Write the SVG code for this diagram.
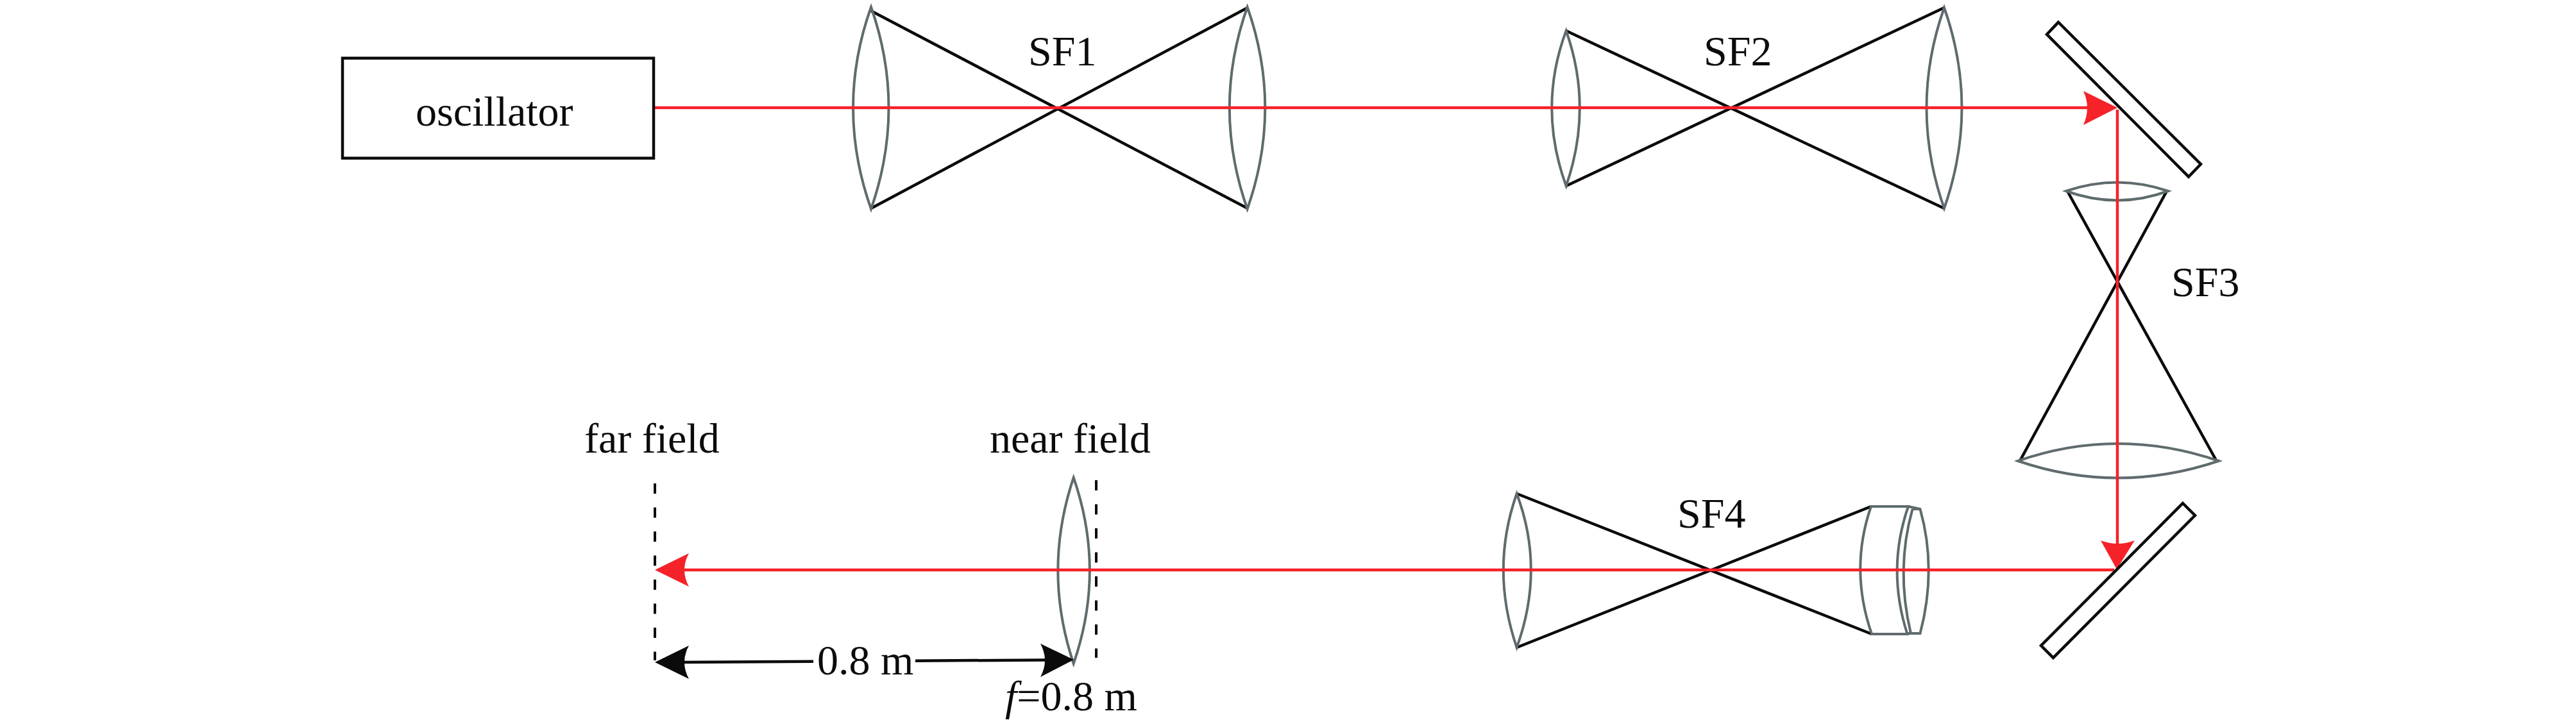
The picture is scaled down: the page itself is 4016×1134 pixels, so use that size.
<svg xmlns="http://www.w3.org/2000/svg" width="4016" height="1134" viewBox="0 0 4016 1134">
<style>
text{font-family:"Liberation Serif","Times New Roman",serif;font-size:66px;fill:#0b0b0b}
.lens{fill:none;stroke:#5f6b6d;stroke-width:4}
.b{fill:none;stroke:#0b0b0b;stroke-width:4.5}
.d{fill:none;stroke:#0b0b0b;stroke-width:4;stroke-dasharray:16 21.5}
.r{fill:none;stroke:#f5222a;stroke-width:4.5}
.ra{fill:#f5222a}.ka{fill:#0b0b0b}
</style>
<rect width="4016" height="1134" fill="#fff"/>
<g id="sf1">
<path class="b" d="M1358 17L1945 325M1358 325L1945 12"/>
<path class="lens" d="M1358 11Q1302 168 1358 326Q1413 168 1358 11Z"/>
<path class="lens" d="M1944.6 11Q1889 168 1944.6 326Q2000 168 1944.6 11Z"/>
<text x="1603" y="102">SF1</text>
</g>
<g id="sf2">
<path class="b" d="M2441.6 48L3031 325M2441.6 290L3031 12"/>
<path class="lens" d="M2441.6 48Q2397 168 2441.6 290Q2484 168 2441.6 48Z"/>
<path class="lens" d="M3031 12Q2976 168 3031 325Q3086 168 3031 12Z"/>
<text x="2656" y="102">SF2</text>
</g>
<g id="sf3">
<path class="b" d="M3223 298L3455 718M3378 298L3149 719"/>
<path class="lens" d="M3221 298Q3301 271 3380 298Q3301 327 3221 298Z"/>
<path class="lens" d="M3146 719Q3301 665 3459 719Q3301 772 3146 719Z"/>
<text x="3385" y="462">SF3</text>
</g>
<g id="sf4">
<path class="b" d="M2364.6 770L2918 989M2364.6 1010L2917 790"/>
<path class="lens" d="M2364.6 770Q2323 888 2364.6 1010Q2409 888 2364.6 770Z"/>
<path class="lens" d="M2917 790Q2883 888 2918 989H2973.5Q2941 888 2975 790Z"/>
<path class="lens" d="M2975 790L2993.5 794Q3020 888 2993.5 988H2973.5M2981.6 794H2993.5M2981.6 794Q2955 888 2979 988"/>
<text x="2615" y="823">SF4</text>
</g>
<g id="near-field">
<path class="lens" d="M1673.7 745Q1625 890 1673.7 1035Q1724 890 1673.7 745Z"/>
<path class="d" d="M1709 749V1026"/>
<text x="1543" y="705.7">near field</text>
</g>
<g id="far-field">
<path class="d" d="M1021 754V1030"/>
<text x="911" y="705.7">far field</text>
</g>
<g id="connectors">
<path class="r" d="M1019 168H3260"/>
<path class="r" d="M3301 171V852"/>
<path class="r" d="M3296 889H1060"/>
<path class="ra" d="M3301 168L3248 142Q3260 168 3248 195Z"/>
<path class="ra" d="M3300 888L3275 843Q3301 853 3328 843Z"/>
<path class="ra" d="M1021 889L1074 863Q1060 889 1074 915Z"/>
<path class="b" d="M1065 1033L1268 1031.7M1427 1030.7L1631 1029.5"/>
<path class="ka" d="M1021 1033L1074 1007Q1060 1033 1074 1059Z"/>
<path class="ka" d="M1674 1029L1622 1004Q1636 1030 1622 1056Z"/>
</g>
<g id="mirror1"><path class="b" d="M3209 34.6L3191 53.6L3412 275.7L3431 256Z"/></g>
<g id="mirror2"><path class="b" d="M3403 785L3422 804L3201 1026L3182 1007Z"/></g>
<g id="oscillator"><rect class="b" x="534" y="90.7" width="485" height="156"/><text x="648" y="196">oscillator</text></g>
<text id="distance" x="1274" y="1052">0.8 m</text>
<text id="focal" x="1567" y="1108"><tspan font-style="italic">f</tspan>=0.8 m</text>
</svg>
